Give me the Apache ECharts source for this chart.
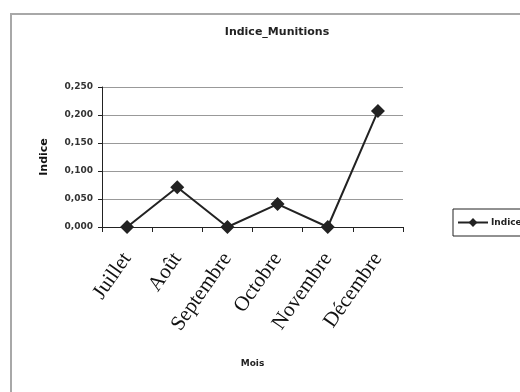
<!DOCTYPE html>
<html><head><meta charset="utf-8">
<script src="https://cdn.jsdelivr.net/npm/echarts@6/dist/echarts.min.js"></script>
<style>html,body{margin:0;padding:0;background:#fff}#c{width:520px;height:392px}</style>
</head><body><div id="c"></div>
<script>
var categories = ['Juillet', 'Août', 'Septembre', 'Octobre', 'Novembre', 'Décembre'];
var indiceValues = [0.000, 0.071, 0.000, 0.041, 0.000, 0.207];
var yTicks = [0, 0.05, 0.10, 0.15, 0.20, 0.25];

var chart = echarts.init(document.getElementById('c'), null, {renderer: 'canvas'});
chart.setOption({
  backgroundColor: '#fff',
  animation: false,
  graphic: [{
    type: 'rect', shape: {x: 11, y: 14, width: 600, height: 500},
    style: {fill: 'none', stroke: '#a8a8a8', lineWidth: 2}, silent: true
  }],
  title: {
    text: 'Indice_Munitions', left: 272, top: 22, textAlign: 'center',
    textStyle: {fontFamily: 'DejaVu Sans', fontWeight: 'bold', fontSize: 11, color: '#222'}
  },
  legend: {
    left: 453, top: 209, padding: [9, 60, 9, 4],
    borderColor: '#222', borderWidth: 1,
    itemWidth: 30, itemHeight: 11, itemGap: 2,
    textStyle: {fontFamily: 'DejaVu Sans', fontWeight: 'bold', fontSize: 9, color: '#222', padding: [0,0,0,-2]},
    data: [{name: 'Indice'}]
  },
  grid: {left: 102, right: 117, top: 87, bottom: 165, containLabel: false},
  xAxis: {
    type: 'category', data: categories, boundaryGap: true,
    name: 'Mois', nameLocation: 'middle', nameGap: 132,
    nameTextStyle: {fontFamily: 'DejaVu Sans', fontWeight: 'bold', fontSize: 9, color: '#222'},
    axisLine: {lineStyle: {color: '#222', width: 1}},
    axisTick: {show: true, alignWithLabel: false, length: 5, lineStyle: {color: '#222'}},
    axisLabel: {rotate: 55, margin: 28, fontFamily: 'Liberation Serif', fontSize: 21, color: '#111', interval: 0}
  },
  yAxis: {
    type: 'value', min: 0, max: 0.25, interval: 0.05,
    name: 'Indice', nameLocation: 'middle', nameGap: 52,
    nameTextStyle: {fontFamily: 'DejaVu Sans', fontWeight: 'bold', fontSize: 11, color: '#111'},
    axisLine: {show: true, lineStyle: {color: '#222', width: 1}},
    axisTick: {show: true, length: 4, lineStyle: {color: '#222'}},
    axisLabel: {margin: 9, fontFamily: 'DejaVu Sans', fontWeight: 'bold', fontSize: 9, color: '#333',
      formatter: function (v) { return v.toFixed(3).replace('.', ','); }},
    splitLine: {show: true, lineStyle: {color: '#999', width: 1}}
  },
  series: [{
    name: 'Indice', type: 'line', data: indiceValues,
    symbol: 'diamond', symbolSize: 14, showAllSymbol: true,
    lineStyle: {color: '#222', width: 2},
    itemStyle: {color: '#222'}
  }]
});
</script></body></html>
